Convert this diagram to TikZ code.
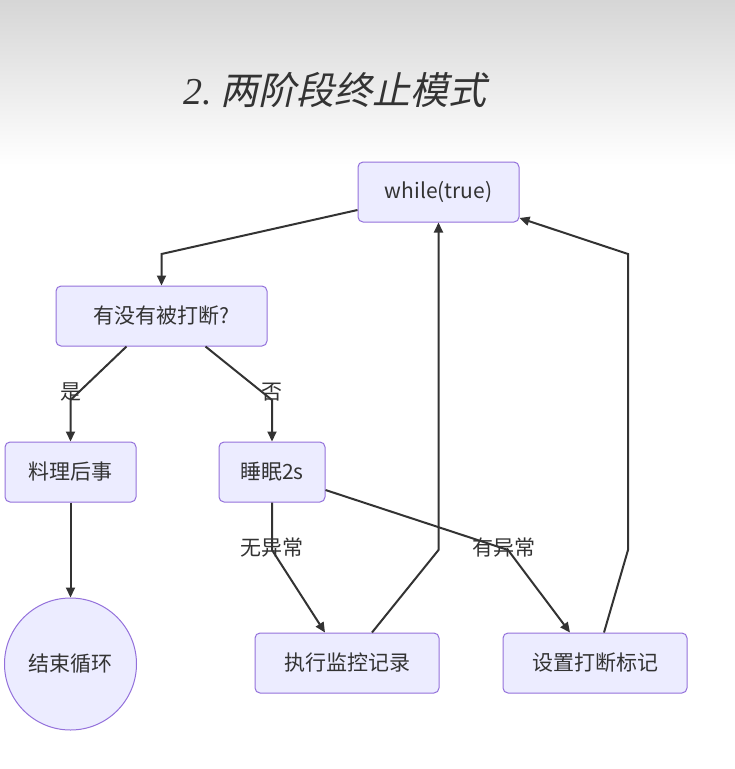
\documentclass[tikz,border=0pt]{standalone}
\usepackage{fontspec}
\setmainfont{Noto Sans CJK SC}
\newfontfamily\titlecjk[FakeSlant=0.22]{Noto Sans CJK SC}
\newfontfamily\titlelat{Liberation Serif}
\usetikzlibrary{arrows.meta,calc}
\definecolor{nodefill}{HTML}{ECECFF}
\definecolor{nodeborder}{HTML}{9370DB}
\definecolor{textc}{HTML}{333333}
\definecolor{topgray}{HTML}{D6D6D6}
\begin{document}
\begin{tikzpicture}[x=1pt,y=-1pt,
  box/.style={draw=nodeborder, fill=nodefill, rounded corners=5pt, line width=1pt,
    minimum height=60pt, inner sep=0pt, text=textc, font=\fontsize{21}{25}\selectfont},
  edge/.style={draw=textc, line width=2pt, -{Triangle[length=10pt,width=9pt]}},
  lab/.style={text=textc, font=\fontsize{21}{25}\selectfont, inner sep=0pt}]
\useasboundingbox (0,0) rectangle (735,769);
\shade[top color=topgray, bottom color=white] (0,0) rectangle (735,165);
\node[anchor=west, text=textc, inner sep=0pt] (title) at (183,90)
  {\fontsize{38}{44}\selectfont{\titlelat\itshape 2.}\ \titlecjk 两阶段终止模式};

\node[box, minimum width=161pt] (wt) at (438.5,192) {while(true)};
\node[box, minimum width=211pt] (q) at (161.5,316) {有没有被打断?};
\node[box, minimum width=131pt] (lh) at (70.5,472) {料理后事};
\node[box, minimum width=106pt] (sl) at (272,472) {睡眠2s};
\node[box, circle, rounded corners=0pt, minimum size=132pt] (end) at (70.5,664) {结束循环};
\node[box, minimum width=184pt] (ex) at (347,663) {执行监控记录};
\node[box, minimum width=184pt] (st) at (595,663) {设置打断标记};

\draw[edge] ($(wt.west)+(0,18)$) -- (161.5,254) -- (q.north);
\draw[edge] ($(q.south)+(-35,0)$) -- (70.5,400) -- (lh.north);
\draw[edge] ($(q.south)+(44,0)$) -- (272,400) -- (sl.north);
\draw[edge] (lh.south) -- (end.north);
\draw[edge] (sl.south) -- (272,550) -- ($(ex.north)+(-22,0)$);
\draw[edge] ($(sl.east)+(0,18)$) -- (508,550) -- ($(st.north)+(-25,0)$);
\draw[edge] ($(ex.north)+(25,0)$) -- (438.5,550) -- (wt.south);
\draw[edge] ($(st.north)+(9,0)$) -- (628,550) -- (628,254) -- ($(wt.east)+(0,26)$);

\node[lab] (l1) at (70.5,392) {是};
\node[lab] (l2) at (272,392) {否};
\node[lab] (l3) at (272,548) {无异常};
\node[lab] (l4) at (504,548) {有异常};
\end{tikzpicture}
\end{document}
